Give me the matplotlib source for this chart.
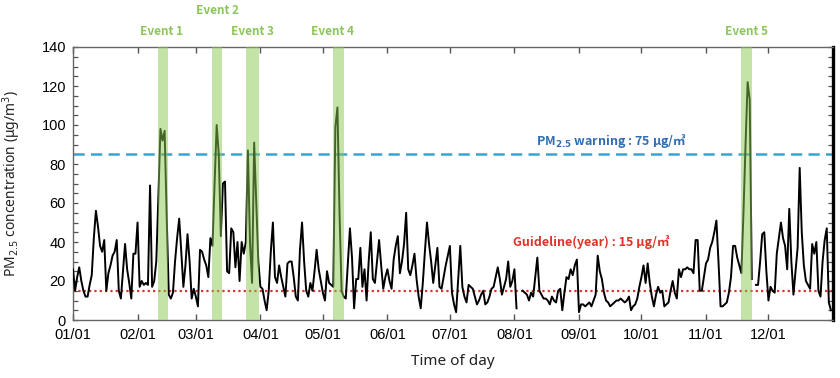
import numpy as np
import pandas as pd
import matplotlib
matplotlib.use('Agg')
import matplotlib.pyplot as plt
from matplotlib.ticker import MultipleLocator, FixedLocator
from matplotlib.transforms import blended_transform_factory

nan = np.nan
# daily PM2.5 values (ug/m3), one list per month
jan = [26, 15, 22, 27, 20, 15, 12, 12, 18, 23, 42, 56, 48, 38, 35, 41, 15, 24, 28, 33,
       35, 41, 15, 11, 25, 39, 26, 19, 11, 34, 34]
feb = [50, 17, 20, 18, 19, 18, 69, 17, 20, 30, 63, 98, 92, 97, 53, 13, 11, 14, 30, 42,
       52, 35, 17, 28, 44, 30, 11, 16]
mar = [12, 7, 36, 35, 31, 28, 22, 42, 38, 70, 100, 85, 43, 70, 71, 25, 24, 47, 45, 27,
       40, 20, 40, 34, 40, 87, 40, 19, 91, 60, 30]
apr = [17, 16, 10, 5, 15, 35, 50, 22, 19, 28, 22, 17, 12, 29, 30, 30, 22, 12, 10, 36,
       50, 30, 15, 12, 19, 15, 25, 36, 26, 20]
may = [14, 10, 25, 19, 18, 17, 99, 109, 55, 15, 12, 11, 29, 47, 32, 6, 21, 21, 37, 17,
       26, 10, 30, 45, 21, 19, 30, 41, 28, 16, 22]
jun = [26, 20, 16, 31, 38, 43, 24, 30, 39, 55, 26, 23, 28, 34, 21, 12, 6, 19, 35, 50,
       39, 30, 19, 28, 37, 17, 16, 22, 28, 33]
jul = [38, 14, 8, 4, 21, 38, 17, 12, 9, 18, 17, 16, 12, 8, 10, 13, 15, 8, 9, 12,
       16, 17, 22, 27, 21, 13, 17, 21, 30, 17, 20]
aug = [26, 6, nan, nan, 15, 14, 13, 10, 14, 12, 22, 32, 15, 13, 11, 11, 10, 8, 12, 10,
       9, 15, 16, 5, 14, 22, 21, 26, 23, 28, 31]
sep = [4, 8, 8, 7, 8, 9, 7, 10, 13, 33, 25, 21, 14, 10, 9, 7, 8, 9, 10, 10,
       11, 10, 9, 10, 12, 5, 7, 8, 11, 17]
oct_ = [22, 28, 19, 29, 19, 12, 7, 13, 17, 14, 15, 7, 8, 9, 15, 20, 14, 11, 26, 22,
        26, 26, 27, 26, 26, 24, 41, 41, 15, 15, 22]
nov = [29, 31, 37, 40, 45, 51, 30, 7, 7, 8, 9, 14, 22, 38, 38, 32, 28, 24, 55, 90,
       122, 113, 21, nan, 18, 18, 30, 44, 45, 25]
dec = [10, 17, 15, 14, 34, 42, 50, 42, 38, 26, 57, 30, 13, 25, 37, 78, 45, 28, 20, 18,
       16, 39, 34, 40, 15, 12, 30, 41, 47, 9, 5]

pm25 = np.array(jan + feb + mar + apr + may + jun + jul + aug + sep + oct_ + nov + dec, dtype=float)
days = np.arange(len(pm25))

month_starts = pd.date_range('2019-01-01', periods=12, freq='MS')
month_ticks = list((month_starts - month_starts[0]).days)
month_labels = list(month_starts.strftime('%m/%d'))

event_names = ['Event 1', 'Event 2', 'Event 3', 'Event 4', 'Event 5']
event_start = [40.8, 66.8, 83.2, 124.8, 321.0]
event_end = [45.6, 71.6, 89.4, 130.0, 326.3]
event_label_x = [42.7, 69.2, 86.2, 124.6, 323.3]
event_label_row = [0, 1, 0, 0, 0]

warning_level = 85
guideline_level = 15
warning_text = r'PM$_{\mathbf{2.5}}$ warning : 75 μg/㎥'
guideline_text = 'Guideline(year) : 15 μg/㎥'

plt.rcParams['font.family'] = ['Liberation Sans', 'DejaVu Sans']
plt.rcParams['mathtext.fontset'] = 'dejavusans'

fig = plt.figure(figsize=(8.4, 3.78), dpi=100)
ax = fig.add_axes([73 / 840, 1 - 320 / 378, 760 / 840, 273 / 378])

ax.plot(days, pm25, color='black', lw=1.4, zorder=3)
for s, e in zip(event_start, event_end):
    ax.axvspan(s, e, color='#8bc94f', alpha=0.5, lw=0, zorder=4)
ax.axhline(warning_level, color='#3ba3d0', lw=1.8, ls=(0, (4.5, 2.5)), zorder=2)
ax.axhline(guideline_level, color='#d9342b', lw=1.6, ls=(0, (1, 1.4)), zorder=2)

ax.set_xlim(0, 365)
ax.set_ylim(0, 140)
ax.xaxis.set_major_locator(FixedLocator(month_ticks))
ax.set_xticklabels(month_labels)
ax.yaxis.set_major_locator(MultipleLocator(20))
ax.yaxis.set_minor_locator(MultipleLocator(5))
ax.tick_params(axis='x', which='major', direction='in', length=4.5, width=1, top=True,
               bottom=True, labelsize=10.5, pad=6, color='#555555')
ax.tick_params(axis='y', which='both', direction='in', length=3.5, width=0.9, left=True,
               right=True, labelsize=10.5, pad=5, color='#555555')
for side in ['left', 'top', 'bottom']:
    ax.spines[side].set_color('#666666')
    ax.spines[side].set_linewidth(1.0)
ax.spines['right'].set_color('black')
ax.spines['right'].set_linewidth(2.4)

ax.set_ylabel(r'PM$_{2.5}$ concentration (μg/m$^3$)', family=['Noto Sans', 'DejaVu Sans'],
              fontsize=10, color='#222222')
ax.yaxis.set_label_coords(-0.066, 0.5)
ax.set_xlabel('Time of day', family=['Noto Sans', 'DejaVu Sans'], fontsize=11, color='#222222')
ax.xaxis.set_label_coords(0.5, -0.125)

trans = blended_transform_factory(ax.transData, ax.transAxes)
row_y = [1.055, 1.132]
for name, x, r in zip(event_names, event_label_x, event_label_row):
    ax.text(x, row_y[r], name, transform=trans, ha='center', va='center',
            family=['Noto Sans CJK KR', 'DejaVu Sans'], fontweight='bold', fontsize=8.5,
            color='#8cc65a', clip_on=False)

ax.text(258.7, 91.8, warning_text, ha='center', va='center', color='#2f6eb5',
        family=['Noto Sans CJK KR', 'DejaVu Sans'], fontweight='bold', fontsize=9, zorder=5)
ax.text(248.8, 40, guideline_text, ha='center', va='center', color='#e2332b',
        family=['Noto Sans CJK KR', 'DejaVu Sans'], fontweight='bold', fontsize=9, zorder=5)

fig.savefig('out.png', dpi=100)
